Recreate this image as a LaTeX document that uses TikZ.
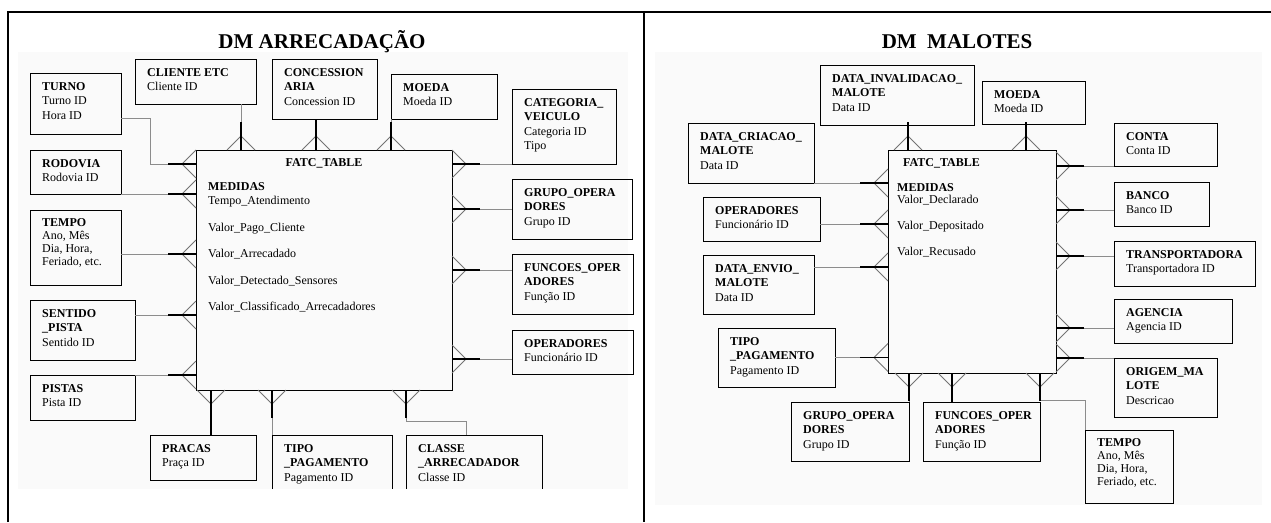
\documentclass[tikz,border=0pt]{standalone}
\usepackage{fontspec}
\setmainfont{Liberation Serif}
\begin{document}
\begin{tikzpicture}[x=1pt,y=-1pt,
 tab/.style={draw,line width=.9pt,anchor=north west,inner sep=0pt,outer sep=0pt},
 tabcut/.style={anchor=north west,inner sep=0pt,outer sep=0pt},
 txt/.style={anchor=north west,align=left,inner sep=0pt,font=\fontsize{12}{14.5}\selectfont},
 titulo/.style={font=\fontsize{21}{24}\selectfont\bfseries},
 link/.style={draw=black!45,line width=.8pt},
 forte/.style={draw=black,line width=1.3pt},
 crow/.pic={\draw[black!55,line width=1pt] (0,-14) -- (-14,0) -- (0,14);
            \draw[line width=1.1pt] (0,0) -- (-28,0);}]
 \useasboundingbox (0,0) rectangle (1271,522);
 \fill[black!2] (18,52) rectangle (628,489);
 \fill[black!2] (655,52) rectangle (1262,505);
 \draw[line width=2.5pt] (8,522) -- (8,12) -- (1271,12);
 \draw[line width=2.5pt] (644,12) -- (644,522);

 \node[titulo] (tit-a) at (322,42) {DM ARRECADAÇÃO};
 \node[titulo] (tit-b) at (957,42) {DM\ \ MALOTES};

 % DM ARRECADACAO
 \node[tab,minimum width=256,minimum height=240] (fatc) at (196,150) {};
 \node[txt,font=\fontsize{12}{14}\selectfont\bfseries,anchor=center] (fatc-t) at ([yshift=-13pt]fatc.north) {FATC\_TABLE};
 \node[txt] (fatc-m) at (208,182) {\textbf{MEDIDAS}\\Tempo\_Atendimento\\[12pt]Valor\_Pago\_Cliente\\[12pt]Valor\_Arrecadado\\[12pt]Valor\_Detectado\_Sensores\\[12pt]Valor\_Classificado\_Arrecadadores};

 \node[tab,minimum width=91,minimum height=61] (turno) at (30,73) {};
 \node[txt] (turno-t) at ([shift={(12,9)}]turno.north west) {\textbf{TURNO}\\Turno ID\\Hora ID};
 \node[tab,minimum width=121,minimum height=45] (cliente) at (135,59) {};
 \node[txt] (cliente-t) at ([shift={(12,9)}]cliente.north west) {\textbf{CLIENTE ETC}\\Cliente ID};
 \node[tab,minimum width=105,minimum height=60] (conc) at (272,59) {};
 \node[txt] (conc-t) at ([shift={(12,9)}]conc.north west) {\textbf{CONCESSION}\\\textbf{ARIA}\\Concession ID};
 \node[tab,minimum width=106,minimum height=45] (moeda) at (391,74) {};
 \node[txt] (moeda-t) at ([shift={(12,9)}]moeda.north west) {\textbf{MOEDA}\\Moeda ID};
 \node[tab,minimum width=104,minimum height=75] (categ) at (512,89) {};
 \node[txt] (categ-t) at ([shift={(12,9)}]categ.north west) {\textbf{CATEGORIA\_}\\\textbf{VEICULO}\\Categoria ID\\Tipo};
 \node[tab,minimum width=91,minimum height=44] (rodovia) at (30,150) {};
 \node[txt] (rodovia-t) at ([shift={(12,9)}]rodovia.north west) {\textbf{RODOVIA}\\Rodovia ID};
 \node[tab,minimum width=91,minimum height=75] (tempo) at (30,210) {};
 \node[txt,font=\fontsize{12}{13}\selectfont] (tempo-t) at ([shift={(12,8)}]tempo.north west) {\textbf{TEMPO}\\Ano, Mês\\Dia, Hora,\\Feriado, etc.};
 \node[tab,minimum width=105,minimum height=60] (sentido) at (30,300) {};
 \node[txt] (sentido-t) at ([shift={(12,9)}]sentido.north west) {\textbf{SENTIDO}\\\textbf{\_PISTA}\\Sentido ID};
 \node[tab,minimum width=105,minimum height=45] (pistas) at (30,375) {};
 \node[txt] (pistas-t) at ([shift={(12,9)}]pistas.north west) {\textbf{PISTAS}\\Pista ID};
 \node[tab,minimum width=106,minimum height=45] (pracas) at (150,435) {};
 \node[txt] (pracas-t) at ([shift={(12,9)}]pracas.north west) {\textbf{PRACAS}\\Praça ID};
 \node[tabcut,minimum width=120,minimum height=54] (tipopag) at (272,435) {};
 \draw[line width=.9pt] (tipopag.south west) |- (tipopag.north east) -- (tipopag.south east);
 \node[txt] (tipopag-t) at ([shift={(12,9)}]tipopag.north west) {\textbf{TIPO}\\\textbf{\_PAGAMENTO}\\Pagamento ID};
 \node[tabcut,minimum width=136,minimum height=54] (classe) at (406,435) {};
 \draw[line width=.9pt] (classe.south west) |- (classe.north east) -- (classe.south east);
 \node[txt] (classe-t) at ([shift={(12,9)}]classe.north west) {\textbf{CLASSE}\\\textbf{\_ARRECADADOR}\\Classe ID};
 \node[tab,minimum width=120,minimum height=60] (grupo) at (512,179) {};
 \node[txt] (grupo-t) at ([shift={(12,9)}]grupo.north west) {\textbf{GRUPO\_OPERA}\\\textbf{DORES}\\Grupo ID};
 \node[tab,minimum width=121,minimum height=60] (funcoes) at (512,254) {};
 \node[txt] (funcoes-t) at ([shift={(12,9)}]funcoes.north west) {\textbf{FUNCOES\_OPER}\\\textbf{ADORES}\\Função ID};
 \node[tab,minimum width=121,minimum height=44] (oper) at (512,330) {};
 \node[txt] (oper-t) at ([shift={(12,9)}]oper.north west) {\textbf{OPERADORES}\\Funcionário ID};

 \coordinate (fw1) at (fatc.west |- 0,164);
 \coordinate (fw2) at (fatc.west |- rodovia.south);
 \coordinate (fw3) at (fatc.west |- 0,254);
 \coordinate (fw4) at (fatc.west |- 0,315);
 \coordinate (fw5) at (fatc.west |- pistas.north);
 \coordinate (fn1) at (fatc.north -| 241,0);
 \coordinate (fn2) at (fatc.north -| 316,0);
 \coordinate (fn3) at (fatc.north -| moeda.west);
 \coordinate (fe1) at (fatc.east |- categ.south);
 \coordinate (fe2) at (fatc.east |- grupo.west);
 \coordinate (fe3) at (fatc.east |- 0,270);
 \coordinate (fe4) at (fatc.east |- 0,359);
 \coordinate (fs1) at (fatc.south -| 211,0);
 \coordinate (fs2) at (fatc.south -| tipopag.west);
 \coordinate (fs3) at (fatc.south -| 406,0);

 \draw[link] ([yshift=-14.5pt]turno.east) -| ([xshift=-46pt]fw1) -- (fw1);
 \draw[link] (rodovia.south east) -- (fw2);
 \draw[link] (tempo.east |- fw3) -- (fw3);
 \draw[link] (sentido.east |- fw4) -- (fw4);
 \draw[link] (pistas.north east) -- (fw5);
 \draw[link] (cliente.south -| fn1) -- (fn1);
 \draw[forte] (conc.south -| fn2) -- (fn2);
 \draw[link] (moeda.south west) -- (fn3);
 \draw[link] (fe1) -- (categ.south west);
 \draw[link] (fe2) -- (grupo.west);
 \draw[link] (fe3) -- (fe3 -| funcoes.west);
 \draw[link] (fe4) -- (fe4 -| oper.west);
 \draw[forte] (fs1) -- (fs1 |- pracas.north);
 \draw[link] (fs2) -- (tipopag.north west);
 \draw[link] (fs3) |- ([xshift=-8pt,yshift=14pt]classe.north) -- ([xshift=-8pt]classe.north);

 \pic at (fw1) {crow};
 \pic at (fw2) {crow};
 \pic at (fw3) {crow};
 \pic at (fw4) {crow};
 \pic at (fw5) {crow};
 \pic[rotate=-90] at (fn1) {crow};
 \pic[rotate=-90] at (fn2) {crow};
 \pic[rotate=-90] at (fn3) {crow};
 \pic[rotate=180] at (fe1) {crow};
 \pic[rotate=180] at (fe2) {crow};
 \pic[rotate=180] at (fe3) {crow};
 \pic[rotate=180] at (fe4) {crow};
 \pic[rotate=90] at (fs1) {crow};
 \pic[rotate=90] at (fs2) {crow};
 \pic[rotate=90] at (fs3) {crow};

 % DM MALOTES
 \node[tab,minimum width=168,minimum height=223] (fatcb) at (888,150) {};
 \node[txt,anchor=west] (fatcb-t) at (903,163) {\textbf{FATC\_TABLE}};
 \node[txt,font=\fontsize{12}{12}\selectfont] (fatcb-m) at (897,183) {\textbf{MEDIDAS}\\Valor\_Declarado\\[14pt]Valor\_Depositado\\[14pt]Valor\_Recusado};

 \node[tab,minimum width=154,minimum height=60] (dinv) at (820,65) {};
 \node[txt] (dinv-t) at ([shift={(12,9)}]dinv.north west) {\textbf{DATA\_INVALIDACAO\_}\\\textbf{MALOTE}\\Data ID};
 \node[tab,minimum width=103,minimum height=43] (moedab) at (982,81) {};
 \node[txt] (moedab-t) at ([shift={(12,9)}]moedab.north west) {\textbf{MOEDA}\\Moeda ID};
 \node[tab,minimum width=126,minimum height=60] (dcria) at (688,123) {};
 \node[txt] (dcria-t) at ([shift={(12,9)}]dcria.north west) {\textbf{DATA\_CRIACAO\_}\\\textbf{MALOTE}\\Data ID};
 \node[tab,minimum width=117,minimum height=44] (operb) at (703,197) {};
 \node[txt] (operb-t) at ([shift={(12,9)}]operb.north west) {\textbf{OPERADORES}\\Funcionário ID};
 \node[tab,minimum width=111,minimum height=59] (denvio) at (703,255) {};
 \node[txt] (denvio-t) at ([shift={(12,9)}]denvio.north west) {\textbf{DATA\_ENVIO\_}\\\textbf{MALOTE}\\Data ID};
 \node[tab,minimum width=117,minimum height=59] (tipopagb) at (718,328) {};
 \node[txt] (tipopagb-t) at ([shift={(12,9)}]tipopagb.north west) {\textbf{TIPO}\\\textbf{\_PAGAMENTO}\\Pagamento ID};
 \node[tab,minimum width=118,minimum height=59] (grupob) at (791,402) {};
 \node[txt] (grupob-t) at ([shift={(12,9)}]grupob.north west) {\textbf{GRUPO\_OPERA}\\\textbf{DORES}\\Grupo ID};
 \node[tab,minimum width=117,minimum height=59] (funcoesb) at (923,402) {};
 \node[txt] (funcoesb-t) at ([shift={(12,9)}]funcoesb.north west) {\textbf{FUNCOES\_OPER}\\\textbf{ADORES}\\Função ID};
 \node[tab,minimum width=103,minimum height=43] (conta) at (1114,123) {};
 \node[txt] (conta-t) at ([shift={(12,9)}]conta.north west) {\textbf{CONTA}\\Conta ID};
 \node[tab,minimum width=95,minimum height=44] (banco) at (1114,182) {};
 \node[txt] (banco-t) at ([shift={(12,9)}]banco.north west) {\textbf{BANCO}\\Banco ID};
 \node[tab,minimum width=141,minimum height=45] (transp) at (1114,241) {};
 \node[txt] (transp-t) at ([shift={(12,9)}]transp.north west) {\textbf{TRANSPORTADORA}\\Transportadora ID};
 \node[tab,minimum width=118,minimum height=44] (agencia) at (1114,299) {};
 \node[txt] (agencia-t) at ([shift={(12,9)}]agencia.north west) {\textbf{AGENCIA}\\Agencia ID};
 \node[tab,minimum width=103,minimum height=59] (origem) at (1114,358) {};
 \node[txt] (origem-t) at ([shift={(12,9)}]origem.north west) {\textbf{ORIGEM\_MA}\\\textbf{LOTE}\\Descricao};
 \node[tab,minimum width=88,minimum height=73] (tempob) at (1085,430) {};
 \node[txt,font=\fontsize{12}{13}\selectfont] (tempob-t) at ([shift={(12,8)}]tempob.north west) {\textbf{TEMPO}\\Ano, Mês\\Dia, Hora,\\Feriado, etc.};

 \coordinate (gn1) at (fatcb.north -| 908,0);
 \coordinate (gn2) at (fatcb.north -| 1026,0);
 \coordinate (gw1) at (fatcb.west |- dcria.south);
 \coordinate (gw2) at (fatcb.west |- 0,224);
 \coordinate (gw3) at (fatcb.west |- 0,267);
 \coordinate (gw4) at (fatcb.west |- tipopagb.east);
 \coordinate (ge1) at (fatcb.east |- conta.south);
 \coordinate (ge2) at (fatcb.east |- 0,210);
 \coordinate (ge3) at (fatcb.east |- 0,256);
 \coordinate (ge4) at (fatcb.east |- 0,328);
 \coordinate (ge5) at (fatcb.east |- origem.north);
 \coordinate (gs1) at (fatcb.south -| grupob.east);
 \coordinate (gs2) at (fatcb.south -| 952,0);
 \coordinate (gs3) at (fatcb.south -| 1040,0);

 \draw[link] (dinv.south -| gn1) -- (gn1);
 \draw[link] (moedab.south -| gn2) -- (gn2);
 \draw[link] (dcria.south east) -- (gw1);
 \draw[link] (gw2 -| operb.east) -- (gw2);
 \draw[link] (gw3 -| denvio.east) -- (gw3);
 \draw[link] (tipopagb.east) -- (gw4);
 \draw[link] (ge1) -- (conta.south west);
 \draw[link] (ge2) -- (ge2 -| banco.west);
 \draw[link] (ge3) -- (ge3 -| transp.west);
 \draw[link] (ge4) -- (ge4 -| agencia.west);
 \draw[link] (ge5) -- (origem.north west);
 \draw[link] (gs1) -- (grupob.north east);
 \draw[forte] (gs2) -- (gs2 |- funcoesb.north);
 \draw[link] (gs3) |- ([yshift=30pt]tempob.north west) -- (tempob.north west);

 \pic[rotate=-90] at (gn1) {crow};
 \pic[rotate=-90] at (gn2) {crow};
 \pic at (gw1) {crow};
 \pic at (gw2) {crow};
 \pic at (gw3) {crow};
 \pic at (gw4) {crow};
 \pic[rotate=180] at (ge1) {crow};
 \pic[rotate=180] at (ge2) {crow};
 \pic[rotate=180] at (ge3) {crow};
 \pic[rotate=180] at (ge4) {crow};
 \pic[rotate=180] at (ge5) {crow};
 \pic[rotate=90] at (gs1) {crow};
 \pic[rotate=90] at (gs2) {crow};
 \pic[rotate=90] at (gs3) {crow};
\end{tikzpicture}
\end{document}
